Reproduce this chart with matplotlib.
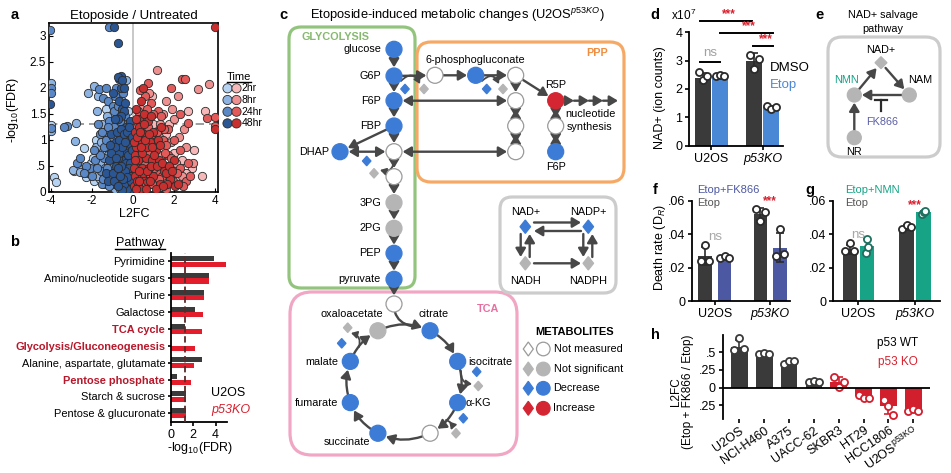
import numpy as np
import matplotlib
matplotlib.use('Agg')
import matplotlib.pyplot as plt
from matplotlib.patches import Circle, Polygon, FancyBboxPatch

plt.rcParams['font.family'] = ['Liberation Sans', 'DejaVu Sans']
plt.rcParams['mathtext.fontset'] = 'custom'
plt.rcParams['mathtext.rm'] = 'Liberation Sans'
plt.rcParams['mathtext.it'] = 'Liberation Sans:italic'
plt.rcParams['mathtext.bf'] = 'Liberation Sans:bold'
plt.rcParams['axes.unicode_minus'] = False
plt.rcParams['axes.linewidth'] = 1.2

# ---------------- data ----------------
# a: volcano, (L2FC, -log10 FDR) per time point
blue_2hr = [(-3.85, 0.27), (-3.75, 0.18), (-2.9, 0.4), (-2.3, 0.27), (-1.9, 0.2), (-1.6, 0.25),
            (-1.3, 0.3), (-2.4, 0.84), (-1.8, 1.0), (-1.5, 0.75), (-1.2, 0.55), (-1.0, 0.4),
            (-0.8, 0.2), (-2.05, 0.55), (-1.1, 1.1), (-0.5, 0.35), (-1.7, 0.5), (-1.4, 0.15),
            (-2.6, 0.5), (-4.0, 1.28), (-0.7, 1.25), (-1.3, 1.6), (-0.25, 1.55), (-0.9, 0.7),
            (-1.95, 0.65)]
blue_8hr = [(-4.0, 2.1), (-4.02, 1.17), (-2.8, 1.33), (-2.85, 0.98), (-2.7, 0.45), (-2.95, 0.42),
            (-2.6, 0.38), (-2.2, 1.9), (-1.9, 2.03), (-1.7, 1.85), (-1.75, 1.55), (-1.5, 1.3),
            (-1.8, 0.85), (-1.55, 0.95), (-1.3, 0.85), (-1.05, 0.95), (-0.85, 1.15), (-1.2, 0.7),
            (-1.6, 0.55), (-1.35, 0.45), (-1.1, 0.25), (-0.95, 0.55), (-0.7, 0.4), (-0.6, 0.15),
            (-2.2, 0.35), (-1.75, 0.3), (-0.45, 0.8), (-0.35, 1.0), (-1.25, 1.45), (-0.55, 1.75),
            (-0.35, 2.15), (-0.9, 0.05), (-0.35, 0.1)]
blue_24hr = [(-4.05, 3.11), (-1.17, 3.17), (-4.0, 2.0), (-4.0, 1.9), (-4.02, 1.22), (-3.2, 1.27),
             (-3.35, 1.24), (-1.65, 1.97), (-1.3, 2.0), (-1.45, 1.8), (-1.2, 1.75), (-1.0, 1.65),
             (-0.8, 1.55), (-1.35, 1.15), (-1.15, 1.35), (-0.95, 1.25), (-0.75, 1.05), (-0.55, 1.05),
             (-1.25, 0.95), (-1.0, 0.8), (-0.8, 0.85), (-0.6, 0.75), (-0.4, 0.6), (-1.4, 0.65),
             (-1.1, 0.5), (-0.85, 0.4), (-0.65, 0.55), (-0.45, 0.3), (-0.3, 0.45), (-0.2, 0.8),
             (-0.7, 0.2), (-0.5, 0.1), (-1.55, 0.4), (-1.85, 0.6), (-2.1, 0.45), (-2.75, 0.55),
             (-0.85, 2.0), (-0.5, 1.9), (-0.9, 1.85), (-0.3, 1.3), (-0.25, 0.2), (-0.15, 0.35),
             (-1.0, 0.15), (-1.5, 0.15), (-2.3, 0.5), (-0.4, 1.45), (-0.65, 1.35), (-1.6, 1.1),
             (-0.15, 1.1), (-0.2, 0.05),
             (-1.25, 0.45), (-1.4, 0.85), (-1.6, 0.7), (-1.75, 0.45), (-1.9, 0.8), (-2.0, 0.3),
             (-1.45, 0.25), (-1.15, 0.1), (-1.3, 1.0), (-1.5, 1.15), (-1.2, 1.25), (-1.0, 1.05),
             (-0.9, 0.25), (-0.65, 0.05), (-2.4, 0.35), (-2.6, 0.65), (-1.7, 1.3), (-0.95, 1.55),
             (-0.75, 1.65), (-0.3, 0.65)]
blue_48hr = [(-0.93, 3.17), (-0.73, 2.87), (-4.03, 1.69), (-0.6, 2.22), (-0.68, 2.17), (-0.75, 2.2),
             (-0.52, 2.15), (-0.6, 2.0), (-0.45, 2.0), (-1.0, 1.9), (-0.7, 1.75), (-0.55, 1.6),
             (-0.45, 1.55), (-0.6, 1.45), (-0.75, 1.4), (-0.5, 1.2), (-0.35, 1.25), (-0.85, 0.95),
             (-0.65, 0.9), (-0.45, 0.95), (-0.3, 0.85), (-0.2, 0.6), (-0.1, 0.45), (-0.4, 0.75),
             (-0.55, 0.6), (-0.75, 0.65), (-0.95, 0.65), (-0.8, 0.3), (-0.6, 0.35), (-0.35, 0.2),
             (-0.15, 0.15), (-0.08, 0.05), (-0.3, 0.05), (-0.5, 0.45), (-1.15, 0.6), (-1.3, 0.35),
             (-0.25, 1.05), (-0.1, 0.9), (-0.1, 0.7), (-0.15, 1.35), (-1.05, 1.1), (-0.4, 1.7),
             (-1.2, 0.2), (-1.0, 0.35), (-0.05, 0.25), (-0.05, 0.5), (-0.7, 1.0), (-0.9, 1.4),
             (-0.25, 0.35), (-0.45, 0.15),
             (-0.95, 0.2), (-0.85, 0.5), (-0.7, 0.75), (-0.55, 0.85), (-0.35, 0.55), (-0.25, 0.7),
             (-0.15, 0.55), (-0.1, 0.3), (-0.2, 0.45), (-0.4, 0.4), (-0.6, 0.5), (-0.75, 0.45),
             (-0.9, 0.85), (-1.05, 0.75), (-1.1, 0.9), (-0.8, 1.15), (-0.6, 1.2), (-0.45, 1.1),
             (-0.3, 1.15), (-0.2, 1.25), (-0.05, 0.8), (-0.05, 1.05), (-0.12, 0.2), (-0.28, 0.28),
             (-0.5, 0.25), (-0.65, 0.3), (-0.55, 0.02), (-0.75, 0.1), (-0.4, 0.95), (-0.85, 0.65)]
red_2hr = [(3.35, 0.3), (3.5, 1.55), (2.9, 0.45), (2.6, 0.35), (2.2, 0.25), (1.8, 0.45), (1.5, 0.7),
           (1.2, 0.9), (1.0, 1.3), (0.6, 1.55), (0.8, 1.15), (0.5, 0.2), (0.9, 0.35), (1.3, 0.5),
           (2.0, 0.75), (2.4, 0.6), (1.6, 1.1), (0.35, 0.9), (1.75, 1.3), (0.95, 1.85), (3.0, 0.8),
           (2.7, 1.55), (0.25, 0.45), (1.1, 0.15)]
red_8hr = [(3.7, 2.08), (3.15, 1.98), (1.15, 2.35), (2.2, 1.85), (1.9, 1.6), (1.6, 1.75), (1.45, 1.5),
           (1.3, 1.3), (2.5, 1.2), (2.25, 1.05), (2.6, 0.85), (2.95, 0.55), (2.4, 0.3), (1.95, 0.35),
           (1.6, 0.5), (1.35, 0.7), (1.1, 0.6), (0.9, 0.8), (0.7, 1.0), (0.55, 1.25), (0.4, 1.6),
           (0.3, 1.1), (1.0, 0.25), (0.7, 0.5), (0.55, 0.1), (1.25, 1.05), (1.85, 0.95), (2.1, 0.55),
           (0.35, 0.35), (1.5, 0.2), (0.8, 1.9), (2.0, 1.4), (0.2, 0.7)]
red_24hr = [(2.4, 2.17), (2.55, 2.17), (1.85, 2.0), (0.75, 2.1), (0.6, 1.85), (0.9, 1.7), (1.2, 1.55),
            (3.6, 1.42), (4.0, 1.43), (4.0, 1.27), (2.7, 1.33), (2.3, 1.5), (1.7, 1.2), (1.45, 1.0),
            (1.15, 1.15), (0.95, 1.0), (0.75, 0.75), (0.5, 0.6), (0.3, 0.8), (0.15, 1.0), (0.45, 1.4),
            (0.2, 1.25), (1.2, 0.35), (0.85, 0.15), (0.6, 0.3), (0.4, 0.15), (0.2, 0.3), (0.1, 0.55),
            (1.7, 0.7), (1.95, 0.2), (2.3, 0.45), (1.4, 0.3), (1.05, 0.45), (0.65, 1.15), (2.6, 0.2),
            (1.6, 0.9), (0.35, 1.95), (0.25, 1.55), (0.1, 0.15),
            (0.95, 0.15), (1.55, 0.75), (1.85, 0.65), (2.15, 0.35), (2.45, 0.1), (1.35, 1.45),
            (1.0, 1.5), (0.7, 1.6), (0.4, 1.3), (1.5, 1.2), (2.0, 1.0), (2.3, 0.8), (2.7, 0.55),
            (0.05, 0.75), (0.55, 0.55), (1.25, 0.25), (0.75, 1.25), (1.05, 0.95), (1.6, 0.05),
            (2.8, 0.3)]
red_48hr = [(4.0, 3.17), (4.0, 1.2), (0.5, 2.0), (0.4, 1.75), (0.3, 1.4), (0.15, 1.6), (0.5, 1.1),
            (0.35, 0.65), (0.2, 0.45), (0.1, 0.3), (0.05, 0.1), (0.25, 0.1), (0.45, 0.45), (0.65, 0.65),
            (0.8, 0.45), (0.95, 0.6), (1.1, 0.8), (0.85, 0.95), (0.6, 0.85), (0.4, 1.0), (0.15, 0.85),
            (0.1, 1.15), (0.7, 0.2), (1.0, 0.3), (1.3, 0.15), (1.25, 0.6), (1.5, 0.4), (1.8, 0.25),
            (2.05, 0.1), (0.55, 1.5), (0.75, 1.35), (1.0, 1.15), (0.3, 1.25), (0.2, 0.2), (0.08, 0.7),
            (0.45, 0.3), (0.9, 1.45), (1.35, 1.25), (2.0, 0.6), (1.65, 0.15), (0.35, 0.05),
            (0.65, 0.05), (0.05, 0.45), (0.05, 0.95),
            (0.15, 0.05), (0.3, 0.2), (0.5, 0.35), (0.7, 0.4), (0.9, 0.5), (1.15, 0.5), (1.4, 0.55),
            (1.6, 0.35), (1.75, 0.5), (0.25, 0.6), (0.45, 0.75), (0.7, 0.85), (0.95, 0.85), (1.2, 1.0),
            (0.4, 0.85), (0.2, 1.05), (0.6, 1.0), (0.8, 1.1), (0.35, 1.15), (0.15, 1.4), (0.55, 1.3),
            (1.05, 0.7), (1.3, 0.9), (0.85, 0.2), (1.1, 0.05), (1.45, 0.1), (1.9, 0.4), (2.2, 0.15),
            (0.12, 0.6), (0.3, 0.4)]
time_labels = ['2hr', '8hr', '24hr', '48hr']

# b: pathway enrichment
pathways = ['Pyrimidine', 'Amino/nucleotide sugars', 'Purine', 'Galactose', 'TCA cycle',
            'Glycolysis/Gluconeogenesis', 'Alanine, aspartate, glutamate', 'Pentose phosphate',
            'Starch & sucrose', 'Pentose & glucuronate']
fdr_u2os = [3.9, 3.4, 2.95, 2.15, 1.3, 0.05, 2.8, 0.55, 1.4, 1.4]
fdr_p53ko = [4.9, 3.4, 2.95, 2.85, 2.8, 2.15, 2.1, 1.85, 1.4, 1.4]
highlight = ['TCA cycle', 'Glycolysis/Gluconeogenesis', 'Pentose phosphate']

# d: NAD+ levels (x1e7)
groups = ['U2OS', 'p53KO']
nad_dmso = [2.4, 3.0]
nad_etop = [2.45, 1.35]
nad_dmso_reps = [[2.6, 2.3, 2.45], [3.2, 2.7, 3.05]]
nad_etop_reps = [[2.45, 2.5, 2.45], [1.4, 1.3, 1.38]]

# f: death rate, Etop vs Etop+FK866
dr_etop_f = [0.027, 0.052]
dr_fk866 = [0.026, 0.032]
dr_etop_f_reps = [[0.024, 0.0335, 0.024], [0.055, 0.048, 0.053]]
dr_fk866_reps = [[0.026, 0.027, 0.026], [0.027, 0.043, 0.028]]

# g: death rate, Etop vs Etop+NMN
dr_etop_g = [0.031, 0.044]
dr_nmn = [0.033, 0.053]
dr_etop_g_reps = [[0.030, 0.0345, 0.030], [0.043, 0.0455, 0.044]]
dr_nmn_reps = [[0.0285, 0.037, 0.0325], [0.052, 0.053, 0.054]]

# h: L2FC of FK866 effect across cell lines
cell_lines = ['U2OS', 'NCI-H460', 'A375', 'UACC-62', 'SKBR3', 'HT29', 'HCC1806',
              'U2OS$^{\\mathrm{p53KO}}$']
p53_status = ['WT', 'WT', 'WT', 'WT', 'KO', 'KO', 'KO', 'KO']
l2fc = [0.58, 0.44, 0.36, 0.085, 0.085, -0.12, -0.26, -0.315]
l2fc_reps = [[0.53, 0.70, 0.54], [0.47, 0.485, 0.47], [0.33, 0.37, 0.37], [0.085, 0.094, 0.085],
             [0.155, 0.015, 0.085], [-0.10, -0.15, -0.14], [-0.17, -0.26, -0.38],
             [-0.325, -0.306, -0.325]]

# ---------------- colours ----------------
DARK = '#3a3a3a'
RED = '#d7202e'
BLUE_BAR = '#4a87d4'
PURPLE = '#4d58a3'
TEAL = '#16a386'
blue_cols = ['#b7d3f2', '#8db3e2', '#5a88c6', '#2b5694']
red_cols = ['#f6b8b8', '#ef9090', '#e35a5a', '#c83030']

W, H = 951, 473
fig = plt.figure(figsize=(W / 100, H / 100), dpi=100)


def px_axes(l, t, r, b):
    return fig.add_axes([l / W, 1 - b / H, (r - l) / W, (b - t) / H])


def prism(ax):
    ax.spines['top'].set_visible(False)
    ax.spines['right'].set_visible(False)
    for s in ('left', 'bottom'):
        ax.spines[s].set_linewidth(1.3)
    ax.tick_params(length=3, width=1.2, labelsize=9, pad=2)


# ---------------- a: volcano ----------------
ax = px_axes(49, 23, 218, 192)
ax.axvline(0, color='#c4c4c4', lw=1.3, zorder=1)
ax.axhline(1.3, color='#8c8c8c', lw=1.2, ls=(0, (5, 3)), zorder=1)
for bset, rset, bc, rc in zip([blue_2hr, blue_8hr, blue_24hr, blue_48hr],
                              [red_2hr, red_8hr, red_24hr, red_48hr], blue_cols, red_cols):
    for pts, col in ((bset, bc), (rset, rc)):
        xs, ys = zip(*pts)
        ax.scatter(xs, ys, s=36, color=col, edgecolors='#2b2b2b', linewidths=0.6, zorder=3)
ax.set_xlim(-4.1, 4.15)
ax.set_ylim(-0.01, 3.25)
ax.set_xticks([-4, -2, 0, 2, 4])
ax.set_yticks([0, 0.5, 1, 1.5, 2, 2.5, 3])
ax.set_yticklabels(['0', '.5', '1', '1.5', '2', '2.5', '3'])
ax.tick_params(direction='in', length=3, labelsize=8.5, pad=2)
ax.set_title('Etoposide / Untreated', fontsize=9.5, pad=3)

# ---------------- b: pathways ----------------
ax = px_axes(170.7, 253, 226.7, 421.7)
yy = np.arange(len(pathways))
ax.barh(yy - 0.16, fdr_u2os, height=0.3, color=DARK, zorder=2)
ax.barh(yy + 0.16, fdr_p53ko, height=0.3, color='#e31d2c', zorder=2)
ax.axvline(1.3, color='#5a2a2a', lw=1.3, ls=(0, (3.5, 2)), zorder=3)
ax.set_xlim(0, 5)
ax.set_ylim(9.5, -0.5)
prism(ax)
ax.set_xticks([0, 2, 4])
ax.set_yticks(yy)
ax.set_yticklabels(pathways, fontsize=7.9)
ax.tick_params(axis='y', length=2, pad=2)
for lab in ax.get_yticklabels():
    if lab.get_text() in highlight:
        lab.set_color('#b8182b')
        lab.set_fontweight('bold')


def replicate_bars(ax, xs, means, reps, color, bw, jit, pt_edge, err_col):
    ax.bar(xs, means, bw, color=color, zorder=2)
    for x, m, r in zip(xs, means, reps):
        r = np.asarray(r)
        ax.errorbar(x, m, yerr=r.std(ddof=1), color=err_col, capsize=3, elinewidth=1.2,
                    capthick=1.2, zorder=3)
        ax.scatter(x + np.asarray(jit), r, s=26, facecolor='white', edgecolor=pt_edge,
                   linewidth=1.3, zorder=4, clip_on=False)


# ---------------- d: NAD+ ----------------
ax = px_axes(689.3, 32.3, 783, 145.7)
gx = np.arange(len(groups))
replicate_bars(ax, gx - 0.165, nad_dmso, nad_dmso_reps, DARK, 0.31, [-0.08, 0.0, 0.08], '#2b2b2b', '#2b2b2b')
replicate_bars(ax, gx + 0.165, nad_etop, nad_etop_reps, BLUE_BAR, 0.31, [-0.08, 0.0, 0.08], '#2b2b2b', '#2b2b2b')
ax.set_xlim(-0.43, 1.39)
ax.set_ylim(0, 4)
prism(ax)
ax.set_xticks(gx)
ax.set_xticklabels(groups)
ax.get_xticklabels()[1].set_fontstyle('italic')
ax.set_yticks([0, 1, 2, 3, 4])
for (x1, x2, y, lab, col, ty) in [(-0.22, 0.78, 4.41, '***', RED, 4.43),
                                  (0.165, 1.19, 3.99, '***', RED, 4.01),
                                  (0.81, 1.19, 3.53, '***', RED, 3.55),
                                  (-0.22, 0.165, 2.94, 'ns', '#a0a0a0', 3.05)]:
    ax.plot([x1, x2], [y, y], color='black', lw=1.4, clip_on=False)
    ax.text((x1 + x2) / 2 + (0.05 if lab == '***' else 0), ty, lab, color=col, ha='center',
            va='bottom', fontsize=8.5 if lab == '***' else 9.5,
            fontweight='bold' if lab == '***' else 'normal')

# ---------------- f: Etop vs Etop+FK866 ----------------
ax = px_axes(692.3, 200.7, 790, 301)
replicate_bars(ax, gx - 0.18, dr_etop_f, dr_etop_f_reps, DARK, 0.24, [-0.08, 0.0, 0.08], '#2b2b2b', '#2b2b2b')
replicate_bars(ax, gx + 0.18, dr_fk866, dr_fk866_reps, PURPLE, 0.24, [-0.08, 0.0, 0.08], '#2b2b2b', '#2b2b2b')
ax.set_xlim(-0.41, 1.36)
ax.set_ylim(0, 0.06)
prism(ax)
ax.set_xticks(gx)
ax.set_xticklabels(groups)
ax.get_xticklabels()[1].set_fontstyle('italic')
ax.set_yticks([0, 0.02, 0.04, 0.06])
ax.set_yticklabels(['0', '.02', '.04', '.06'])
ax.text(0.0, 0.038, 'ns', color='#a8a8a8', ha='center', va='center', fontsize=9.5)
ax.text(1.0, 0.0595, '***', color=RED, ha='center', va='center', fontsize=8.5, fontweight='bold')

# ---------------- g: Etop vs Etop+NMN ----------------
ax = px_axes(833.3, 200.7, 940, 301)
replicate_bars(ax, gx - 0.15, dr_etop_g, dr_etop_g_reps, DARK, 0.25, [-0.08, 0.0, 0.08], '#2b2b2b', '#2b2b2b')
replicate_bars(ax, gx + 0.15, dr_nmn, dr_nmn_reps, TEAL, 0.25, [-0.02, 0.0, 0.02], '#1f6f5f', '#1f6f5f')
ax.set_xlim(-0.44, 1.44)
ax.set_ylim(0, 0.06)
prism(ax)
ax.set_xticks(gx)
ax.set_xticklabels(groups)
ax.get_xticklabels()[1].set_fontstyle('italic')
ax.set_yticks([0, 0.02, 0.04, 0.06])
ax.set_yticklabels(['0', '.02', '.04', '.06'])
ax.text(0.0, 0.0395, 'ns', color='#a8a8a8', ha='center', va='center', fontsize=9.5)
ax.text(1.0, 0.0575, '***', color=RED, ha='center', va='center', fontsize=8.5, fontweight='bold')

# ---------------- h: cell lines ----------------
ax = px_axes(722.7, 335, 930, 419)
cx = np.arange(len(cell_lines))
for i, (m, r, st) in enumerate(zip(l2fc, l2fc_reps, p53_status)):
    c = DARK if st == 'WT' else '#d21f2d'
    replicate_bars(ax, [i], [m], [r], c, 0.67, [-0.2, 0.0, 0.2], c, c)
ax.axhline(0, color='black', lw=1.3, zorder=5)
ax.set_xlim(-0.67, 7.67)
ax.set_ylim(-0.442, 0.744)
prism(ax)
ax.spines['bottom'].set_visible(False)
ax.set_yticks([-0.25, 0, 0.25, 0.5])
ax.set_yticklabels(['.25', '0', '.25', '.5'])
ax.set_xticks(cx)
ax.set_xticklabels(cell_lines, rotation=35, ha='right', rotation_mode='anchor', fontsize=9)
ax.tick_params(axis='x', pad=1)

# ---------------- overlay: schematics + free text ----------------
ov = fig.add_axes([0, 0, 1, 1])
ov.set_xlim(0, W)
ov.set_ylim(H, 0)
ov.axis('off')
ov.patch.set_alpha(0)

AC = '#474747'
node_style = {'blue': ('#3d7cd6', '#3d7cd6'), 'gray': ('#b5b5b5', '#b5b5b5'),
              'red': ('#d42632', '#d42632'), 'none': ('white', '#9a9a9a')}


def node(x, y, kind, r=8):
    fc, ec = node_style[kind]
    ov.add_patch(Circle((x, y), r, facecolor=fc, edgecolor=ec, lw=0.9, zorder=6))


def diamond(x, y, kind, hw=4.3, hh=4.8):
    fc, ec = node_style[kind]
    ov.add_patch(Polygon([(x, y - hh), (x + hw, y), (x, y + hh), (x - hw, y)], closed=True,
                         facecolor=fc, edgecolor=ec, lw=0.9, zorder=6))


def arrow(p, q, both=False, sa=0, sb=6.2, rad=0.0, lw=1.7, ms=10):
    style = ('<|-|>' if both else '-|>') + ',head_length=0.5,head_width=0.3'
    ov.annotate('', xy=q, xytext=p,
                arrowprops=dict(arrowstyle=style, color=AC, lw=lw, shrinkA=sa, shrinkB=sb,
                                mutation_scale=ms, connectionstyle='arc3,rad=%.3f' % rad),
                zorder=4)


def box(l, t, r, b, col, rs=12):
    ov.add_patch(FancyBboxPatch((l, t), r - l, b - t, boxstyle='round,pad=0,rounding_size=%d' % rs,
                                facecolor='none', edgecolor=col, lw=2.3, zorder=2))


def label(x, y, s, ha='center', **kw):
    kw.setdefault('fontsize', 7.8)
    ov.text(x, y, s, ha=ha, va='center', zorder=7, **kw)


# panel letters
for x, y, s in [(15, 15, 'a'), (15, 242, 'b'), (283, 15, 'c'), (655, 15, 'd'),
                (820, 15, 'e'), (655, 190, 'f'), (810, 190, 'g'), (655, 335, 'h')]:
    ov.text(x, y, s, fontsize=10.5, fontweight='bold', ha='center', va='center')

# a: labels + time legend
label(134, 214, 'L2FC', fontsize=9)
label(13, 110, '-log$_{10}$(FDR)', fontsize=9, rotation=90)
label(239, 77, 'Time', fontsize=8)
ov.plot([227, 251], [82, 82], color='black', lw=1.0)
for i, t in enumerate(time_labels):
    y = 88.3 + 11.7 * i
    ov.add_patch(Circle((227.5, y), 4.6, facecolor=blue_cols[i], edgecolor='#2b2b2b', lw=0.6))
    ov.add_patch(Circle((236.5, y), 4.6, facecolor=red_cols[i], edgecolor='#2b2b2b', lw=0.6))
    label(241.5, y, t, ha='left', fontsize=7.5)

# b: labels
label(140, 243, 'Pathway', fontsize=9)
ov.plot([115, 165], [248.5, 248.5], color='black', lw=1.0)
label(200, 448, '-log$_{10}$(FDR)', fontsize=9)
label(211, 393, 'U2OS', ha='left', fontsize=9)
label(211, 410, 'p53KO', ha='left', fontsize=9, color=RED, fontstyle='italic')

# d/f/g/h free text
label(684, 15, 'x10$^{7}$', fontsize=8.5)
label(660, 98, 'NAD+ (ion counts)', fontsize=9, rotation=90)
label(770, 68, 'DMSO', ha='left', fontsize=9.5)
label(770, 85, 'Etop', ha='left', fontsize=9.5, color=BLUE_BAR)
label(660, 247, 'Death rate (D$_{R}$)', fontsize=9, rotation=90)
label(697, 190, 'Etop+FK866', ha='left', fontsize=8, color=PURPLE)
label(697, 203, 'Etop', ha='left', fontsize=8, color='#555555')
label(845, 190, 'Etop+NMN', ha='left', fontsize=8, color=TEAL)
label(845, 203, 'Etop', ha='left', fontsize=8, color='#555555')
ov.text(682, 392, 'L2FC\n(Etop + FK866 / Etop)', rotation=90, ha='center', va='center',
        multialignment='center', fontsize=8.5, linespacing=1.1)
label(898, 343, 'p53 WT', fontsize=8.5)
label(898, 362, 'p53 KO', fontsize=8.5, color=RED)

# ---- c: metabolic map ----
label(457, 15, 'Etoposide-induced metabolic changes (U2OS$^{p53KO}$)', fontsize=9.3)
box(289, 27, 415, 288, '#93c47d')
box(417, 42, 624, 182, '#f6a965', rs=14)
box(290, 292, 517, 455, '#f1a7c4', rs=22)
box(500, 197, 616, 293, '#cccccc')
label(301, 37, 'GLYCOLYSIS', ha='left', fontsize=7.8, fontweight='bold', color='#86b96f')
label(608, 53, 'PPP', ha='right', fontsize=7.8, fontweight='bold', color='#f18d3e')
label(499, 309, 'TCA', ha='right', fontsize=7.8, fontweight='bold', color='#e671a0')

glyco = [('glucose', 49.3, 'blue'), ('G6P', 76, 'blue'), ('F6P', 100.7, 'blue'),
         ('FBP', 126, 'blue'), ('', 151.7, 'none'), ('', 176.7, 'none'), ('3PG', 202.7, 'gray'),
         ('2PG', 228.3, 'gray'), ('PEP', 253.3, 'blue'), ('pyruvate', 279.3, 'blue'),
         ('', 304, 'none')]
GX = 394
for i, (name, y, kind) in enumerate(glyco):
    node(GX, y, kind)
    if name:
        label(381, y, name, ha='right')
    if i:
        arrow((GX, glyco[i - 1][1]), (GX, y))

node(340, 151.7, 'blue')
label(329, 151.7, 'DHAP', ha='right')
arrow((GX, 126), (340, 151.7))
arrow((340, 151.7), (GX, 151.7), both=True, sa=6.2)

ppp = [(435, 75.3, 'none'), (475.7, 75.3, 'blue'), (515.7, 75.3, 'none'), (515.7, 100.7, 'none'),
       (515.7, 126, 'none'), (515.7, 151.7, 'none'), (555.7, 100.7, 'red'), (555.7, 126, 'none'),
       (555.7, 151.7, 'blue')]
for x, y, kind in ppp:
    node(x, y, kind)
arrow((GX, 76), (435, 75.3))
arrow((435, 75.3), (475.7, 75.3))
arrow((475.7, 75.3), (515.7, 75.3))
arrow((515.7, 75.3), (515.7, 100.7))
arrow((515.7, 100.7), (515.7, 126), both=True, sa=6.2)
arrow((515.7, 126), (515.7, 151.7), both=True, sa=6.2)
arrow((515.7, 75.3), (555.7, 100.7))
arrow((555.7, 100.7), (555.7, 126), both=True, sa=6.2)
arrow((555.7, 126), (555.7, 151.7), both=True, sa=6.2)
arrow((GX, 100.7), (515.7, 100.7), both=True, sa=6.2)
arrow((GX, 151.7), (515.7, 151.7), both=True, sa=6.2)
for x0, x1 in [(562, 574), (574, 589), (589, 603), (603, 618)]:
    arrow((x0, 100.7), (x1, 100.7), sb=0)
label(475, 60, '6-phosphogluconate')
label(555.7, 85, 'R5P')
label(555.7, 167, 'F6P')
label(590, 113.5, 'nucleotide')
label(590, 126.5, 'synthesis')

# cofactor hooks (NADP+ -> NADPH, NAD+ -> NADH)
for (hx0, hy0, hx1, hy1, rad, bx, by, gx_, gy_) in [
        (401, 81, 420, 84, -0.7, 405, 89, 424, 89),
        (482, 81, 499, 84, -0.7, 486.7, 89, 503, 89),
        (394, 160, 380, 170, -0.6, 366.7, 161, 374, 173.3),
        (461, 371, 472, 384, 0.5, 476.7, 371.7, 478.3, 386),
        (446, 420, 451, 430, -0.5, 463.3, 418.3, 456, 433.3),
        (359, 347, 351, 333, 0.5, 341.7, 343.3, 347.7, 327.7)]:
    arrow((hx0, hy0), (hx1, hy1), sb=0, rad=rad, lw=1.3, ms=7)
    diamond(bx, by, 'blue')
    diamond(gx_, gy_, 'gray')

# TCA cycle
tca_names = ['oxaloacetate', 'citrate', 'isocitrate', 'α-KG', '', 'succinate', 'fumarate', 'malate']
tca_angles = [117, 63, 21, -21, -63, -117, -159, 159]
tca_kinds = ['gray', 'blue', 'blue', 'blue', 'none', 'blue', 'blue', 'blue']
TCX, TCY, TR = 404, 382, 57.5
tpos = [(TCX + TR * np.cos(np.radians(a)), TCY - TR * np.sin(np.radians(a))) for a in tca_angles]
for i in range(len(tpos)):
    j = (i + 1) % len(tpos)
    span = (tca_angles[i] - tca_angles[j]) % 360
    arrow(tpos[i], tpos[j], sa=6.2, rad=-np.tan(np.radians(span) / 4))
for (x, y), kind in zip(tpos, tca_kinds):
    node(x, y, kind)
ov.annotate('', xy=(411, 326), xytext=(GX, 304),
            arrowprops=dict(arrowstyle='-', color=AC, lw=1.7, shrinkA=6, shrinkB=0,
                            connectionstyle='arc3,rad=0.4'), zorder=4)
label(351.7, 314, 'oxaloacetate')
label(433.3, 314, 'citrate')
label(468, 361.7, 'isocitrate', ha='left')
label(466, 402.7, 'α-KG', ha='left')
label(338, 361.7, 'malate', ha='right')
label(338, 402.7, 'fumarate', ha='right')
label(346.7, 442, 'succinate')

# NAD(P) box
label(525.3, 211.7, 'NAD+')
label(588.3, 211.7, 'NADP+')
label(525.3, 281, 'NADH')
label(588.3, 281, 'NADPH')
for x in (525.3, 588.3):
    diamond(x, 226.7, 'blue', hw=5.3, hh=6.7)
    diamond(x, 263.3, 'gray', hw=5.3, hh=6.7)
arrow((534, 222.5), (581, 222.5), sb=0)
arrow((581, 231), (534, 231), sb=0)
arrow((534, 263.3), (581, 263.3), sb=0)
for x in (520.7, 583.3):
    arrow((x, 234), (x, 257), sb=0)
    arrow((x + 9, 257), (x + 9, 234), sb=0)

# metabolites legend
label(575, 331.7, 'METABOLITES', fontsize=8, fontweight='bold')
for y, kind, txt in [(349, 'none', 'Not measured'), (369, 'gray', 'Not significant'),
                     (388.3, 'blue', 'Decrease'), (408.3, 'red', 'Increase')]:
    diamond(528.3, y, kind, hw=5, hh=7)
    node(543.3, y, kind, r=6.8)
    label(553.5, y, txt, ha='left', fontsize=7.8)

# ---- e: NAD+ salvage ----
label(883, 15, 'NAD+ salvage', fontsize=7.8)
label(883, 29, 'pathway', fontsize=7.8)
box(828, 37, 940, 157, '#cccccc', rs=14)
diamond(881, 62.7, 'gray', hw=6, hh=6)
for x, y in [(854.3, 95), (909.3, 95), (854.3, 137.7)]:
    node(x, y, 'gray', r=7)
arrow((854.3, 95), (881, 62.7), sa=5, sb=5)
arrow((881, 62.7), (909.3, 95), sa=5, sb=5.5)
arrow((909.3, 95), (854.3, 95), sa=5, sb=5.5)
arrow((854.3, 137.7), (854.3, 95), sa=5, sb=5.5)
ov.plot([881, 881], [100, 111], color='#2b2b2b', lw=1.6)
ov.plot([875, 887], [100, 100], color='#2b2b2b', lw=1.6)
label(881, 50, 'NAD+', fontsize=7.8)
label(846.7, 80, 'NMN', fontsize=7.8, color=TEAL)
label(920, 80, 'NAM', fontsize=7.8)
label(854.3, 152, 'NR', fontsize=7.8)
label(882, 122, 'FK866', fontsize=7.8, color='#5b5ea8')

fig.savefig('out.png', dpi=100)
